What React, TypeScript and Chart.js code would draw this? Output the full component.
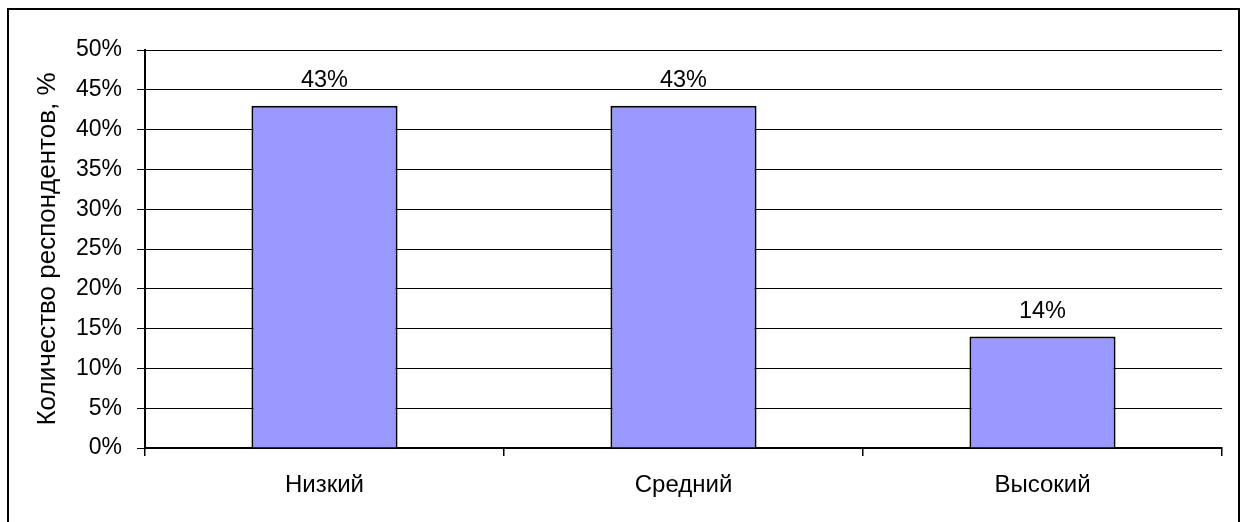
import React, { useEffect, useRef } from "react";
import { Chart, registerables } from "chart.js";

Chart.register(...registerables);

const categories = ["Низкий", "Средний", "Высокий"];
const values = [43, 43, 14];
const yTicks = [0, 5, 10, 15, 20, 25, 30, 35, 40, 45, 50];
const axisTitle = "Количество респондентов, %";

const FONT = "Arial, 'Liberation Sans', sans-serif";

const valueLabels = {
  id: "valueLabels",
  afterDatasetsDraw(chart: any) {
    const ctx = chart.ctx;
    const meta = chart.getDatasetMeta(0);
    ctx.save();
    ctx.font = `23.5px ${FONT}`;
    ctx.fillStyle = "#000";
    ctx.textAlign = "center";
    ctx.textBaseline = "middle";
    meta.data.forEach((bar: any, i: number) => {
      ctx.fillText(`${values[i]}%`, bar.x, bar.y - 25);
    });
    ctx.restore();
  },
};

export default function App() {
  const ref = useRef<HTMLCanvasElement>(null);
  useEffect(() => {
    if (!ref.current) return;
    const chart = new Chart(ref.current, {
      type: "bar",
      data: {
        labels: categories,
        datasets: [
          {
            data: values,
            backgroundColor: "#9999FF",
            borderColor: "#000000",
            borderWidth: 2,
            barPercentage: 0.407,
            categoryPercentage: 1,
          },
        ],
      },
      options: {
        responsive: false,
        animation: false,
        layout: { padding: { left: 0, top: 50, right: 19, bottom: 0 } },
        plugins: {
          legend: { display: false },
          tooltip: { enabled: false },
          title: { display: false },
        },
        scales: {
          x: {
            offset: true,
            grid: {
              display: true,
              offset: true,
              drawOnChartArea: false,
              drawTicks: true,
              tickLength: 8,
              color: "#000",
              lineWidth: 1.5,
            },
            border: { display: true, color: "#000", width: 2 },
            ticks: {
              color: "#000",
              padding: 15,
              font: { family: FONT, size: 24 },
              maxRotation: 0,
            },
            afterFit(scale: any) {
              scale.height = 74;
            },
          },
          y: {
            min: 0,
            max: 50,
            afterBuildTicks(scale: any) {
              scale.ticks = yTicks.map((v) => ({ value: v }));
            },
            grid: {
              color: "#000",
              lineWidth: 1,
              tickLength: 8,
              drawTicks: true,
            },
            border: { display: true, color: "#000", width: 2 },
            ticks: {
              color: "#000",
              padding: 15,
              font: { family: FONT, size: 23 },
              callback: (v: any) => `${v}%`,
            },
            title: {
              display: true,
              text: axisTitle,
              color: "#000",
              font: { family: FONT, size: 26 },
              padding: { top: 32, bottom: 0 },
            },
            afterFit(scale: any) {
              scale.width = 145;
            },
          },
        },
      },
      plugins: [valueLabels],
    });
    return () => chart.destroy();
  }, []);

  return (
    <div style={{ position: "fixed", left: 0, top: 0, width: 1241, height: 522, background: "#fff" }}>
      <canvas ref={ref} width={1241} height={522} style={{ position: "absolute", left: 0, top: 0 }} />
      <div
        style={{
          position: "absolute",
          left: 7,
          top: 8,
          width: 1233,
          height: 530,
          border: "2px solid #000",
          boxSizing: "border-box",
          pointerEvents: "none",
        }}
      />
    </div>
  );
}
